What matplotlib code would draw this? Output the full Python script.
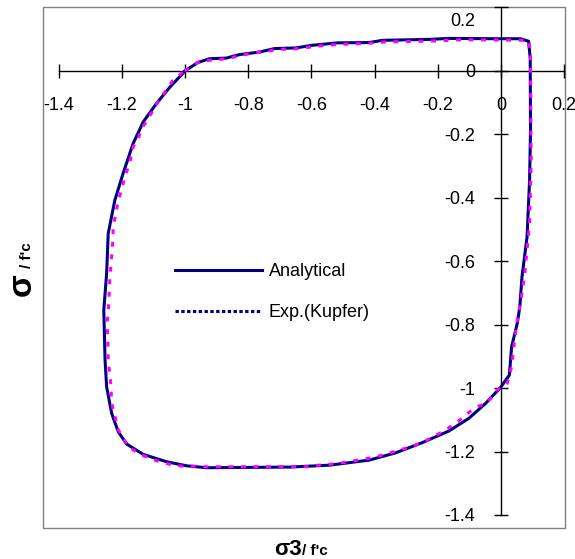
import matplotlib
matplotlib.use("Agg")
import matplotlib.pyplot as plt
import matplotlib.transforms as mtransforms
from matplotlib.lines import Line2D
from matplotlib.patches import Rectangle

plt.rcParams['font.family'] = ['Liberation Sans', 'DejaVu Sans']
plt.rcParams['axes.unicode_minus'] = False

# analytical failure envelope (sigma3/f'c, sigma1/f'c)
ana_x = [-1.00, -0.960, -0.923, -0.870, -0.828, -0.765, -0.717, -0.649, -0.601, -0.517,
         -0.417, -0.375, -0.227, -0.164, -0.017, 0.062, 0.088, 0.093, 0.094, 0.091,
         0.083, 0.067, 0.060, 0.052, 0.034, 0.027, -0.001, -0.048, -0.101, -0.164,
         -0.249, -0.333, -0.417, -0.543, -0.670, -0.933, -0.996, -1.060, -1.133, -1.186,
         -1.212, -1.233, -1.249, -1.254, -1.258, -1.249, -1.244, -1.223, -1.197, -1.165,
         -1.133, -1.091, -1.049, -1.00]
ana_y = [0.000, 0.026, 0.038, 0.040, 0.051, 0.059, 0.070, 0.072, 0.080, 0.088,
         0.089, 0.096, 0.099, 0.102, 0.101, 0.101, 0.093, 0.039, -0.187, -0.345,
         -0.523, -0.649, -0.744, -0.796, -0.870, -0.959, -0.998, -1.048, -1.095, -1.135,
         -1.172, -1.204, -1.227, -1.243, -1.249, -1.251, -1.245, -1.232, -1.209, -1.176,
         -1.138, -1.080, -0.996, -0.912, -0.754, -0.639, -0.513, -0.408, -0.324, -0.229,
         -0.161, -0.103, -0.052, 0.000]

# experimental envelope (Kupfer)
exp_x = [-1.002, -0.954, -0.870, -0.796, -0.743, -0.701, -0.659, -0.575, -0.517, -0.427,
         -0.364, -0.206, -0.122, 0.088, 0.094, 0.096, 0.091, 0.076, 0.067, 0.052,
         0.041, 0.034, 0.020, -0.012, -0.043, -0.075, -0.106, -0.133, -0.175, -0.243,
         -0.285, -0.328, -0.364, -0.401, -0.443, -0.486, -0.528, -0.570, -0.612, -0.670,
         -0.935, -0.970, -1.012, -1.049, -1.091, -1.138, -1.181, -1.212, -1.233, -1.236,
         -1.244, -1.247, -1.244, -1.239, -1.230, -1.228, -1.220, -1.212, -1.202, -1.191,
         -1.175, -1.165, -1.149, -1.138, -1.117, -1.096, -1.086, -1.039, -1.002]
exp_y = [0.000, 0.030, 0.038, 0.054, 0.061, 0.068, 0.068, 0.078, 0.083, 0.086,
         0.091, 0.094, 0.098, 0.096, 0.038, -0.290, -0.480, -0.638, -0.700, -0.786,
         -0.870, -0.933, -0.985, -1.006, -1.046, -1.059, -1.080, -1.103, -1.132, -1.169,
         -1.185, -1.197, -1.208, -1.218, -1.225, -1.233, -1.239, -1.242, -1.248, -1.248,
         -1.248, -1.246, -1.246, -1.240, -1.229, -1.211, -1.185, -1.132, -1.048, -0.985,
         -0.912, -0.786, -0.765, -0.660, -0.544, -0.492, -0.450, -0.408, -0.376, -0.334,
         -0.287, -0.240, -0.214, -0.182, -0.151, -0.114, -0.098, -0.030, 0.000]

ticks = [-1.4, -1.2, -1.0, -0.8, -0.6, -0.4, -0.2, 0.0, 0.2]
tick_labels = ['-1.4', '-1.2', '-1', '-0.8', '-0.6', '-0.4', '-0.2', '0', '0.2']
series_names = ['Analytical', 'Exp.(Kupfer)']

W, H = 575, 559
fig = plt.figure(figsize=(W / 100, H / 100), dpi=100)
ax = fig.add_axes([43 / W, 1 - 528 / H, (565 - 43) / W, (528 - 7) / H])

ax.plot(ana_x, ana_y, color='#000080', lw=2.2, zorder=3)
ax.plot(exp_x, exp_y, color='#FF00FF', lw=2.2, ls=(0, (1.6, 2.5)), zorder=4)

ax.set_xlim(-1.4506, 0.2032)
ax.set_ylim(-1.441, 0.201)

# axes crossing at the origin
ax.spines['left'].set_position(('data', 0))
ax.spines['bottom'].set_position(('data', 0))
ax.spines['left'].set_bounds(-1.4, 0.2)
ax.spines['bottom'].set_bounds(-1.4, 0.2)
ax.spines['top'].set_visible(False)
ax.spines['right'].set_visible(False)
for s in ['left', 'bottom']:
    ax.spines[s].set_linewidth(1.0)

ax.set_xticks(ticks)
ax.set_xticklabels(tick_labels)
ax.set_yticks(ticks)
ax.set_yticklabels(tick_labels)
ax.tick_params(axis='x', direction='inout', length=9.4, width=1.0, pad=14.5, labelsize=13)
ax.tick_params(axis='y', direction='inout', length=9.4, width=1.0, pad=14.0, labelsize=13)
ylabels = ax.get_yticklabels()
for lab in ylabels:
    lab.set_verticalalignment('center_baseline')
# top label is pushed down inside the plot area
ylabels[-1].set_transform(ylabels[-1].get_transform() +
                          mtransforms.ScaledTranslation(0, -12 / 100, fig.dpi_scale_trans))

# outer plot-area frame
ax.add_patch(Rectangle((0, 0), 1, 1, transform=ax.transAxes, fill=False,
                       edgecolor='#808080', lw=1.0, clip_on=False, zorder=0))

handles = [Line2D([], [], color='#000080', lw=2.2),
           Line2D([], [], color='#000080', lw=2.2, ls=(0, (1.1, 0.8)))]
ax.legend(handles, series_names, loc='upper left', bbox_to_anchor=(175 / W, 1 - 263 / H),
          bbox_transform=fig.transFigure, frameon=False, borderpad=0, fontsize=13,
          handlelength=4.8, handletextpad=0.4, labelspacing=1.34, borderaxespad=0)

# axis titles
fig.text(302 / W, 1 - 555 / H, 'σ3', fontsize=16, fontweight='bold', ha='right', va='baseline')
fig.text(302 / W, 1 - 555 / H, '/ f\'c', fontsize=11, fontweight='bold', ha='left', va='baseline')
fig.text(31 / W, 1 - 273 / H, 'σ', fontsize=24, fontweight='bold', rotation=90,
         rotation_mode='anchor', ha='right', va='baseline')
fig.text(31 / W, 1 - 268 / H, '/ f\'c', fontsize=11, fontweight='bold', rotation=90,
         rotation_mode='anchor', ha='left', va='baseline')

fig.savefig('out.png', dpi=100)
